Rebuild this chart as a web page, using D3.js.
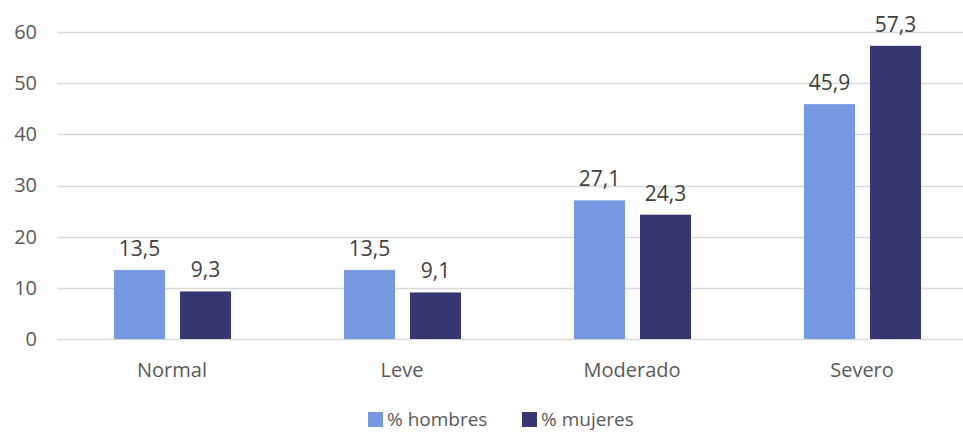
<!DOCTYPE html>
<html>
<head>
<meta charset="utf-8">
<script src="https://cdn.jsdelivr.net/npm/d3@7"></script>
<style>
  html, body { margin: 0; padding: 0; background: #fff; }
  svg { display: block; font-family: "Open Sans", "DejaVu Sans", sans-serif; }
</style>
</head>
<body>
<svg id="chart" width="963" height="432"></svg>
<script>
// Categories and series
const categories = ["Normal", "Leve", "Moderado", "Severo"];
const hombres = [13.5, 13.5, 27.1, 45.9];
const mujeres = [9.3, 9.1, 24.3, 57.3];
const seriesNames = ["% hombres", "% mujeres"];
const seriesColors = ["#7799e1", "#363670"];
const yTicks = [0, 10, 20, 30, 40, 50, 60];

const svg = d3.select("#chart");
const margin = { left: 57, top: 32, bottom: 93 };
const plotW = 920;
const plotH = 432 - margin.top - margin.bottom;

const x = d3.scaleBand().domain(categories).range([margin.left, margin.left + plotW]);
const groupW = 117;
const sub = d3.scaleBand().domain(seriesNames).range([0, groupW]).paddingInner(0.227);
const y = d3.scaleLinear().domain([0, 60]).range([margin.top + plotH, margin.top]);

const textColor = "#595959";

// Gridlines
svg.append("g")
  .selectAll("line")
  .data(yTicks)
  .join("line")
  .attr("x1", margin.left)
  .attr("x2", 963)
  .attr("y1", d => Math.round(y(d)) + 0.5)
  .attr("y2", d => Math.round(y(d)) + 0.5)
  .attr("stroke", "#d9d9d9")
  .attr("stroke-width", 1.3);

// Y axis labels
const yAxis = d3.axisLeft(y).tickValues(yTicks).tickSize(0).tickPadding(0).tickFormat(d3.format("d"));
const gy = svg.append("g").attr("transform", `translate(37,0)`).call(yAxis);
gy.select(".domain").remove();
gy.selectAll("text").attr("fill", textColor).style("font-size", "20px").attr("font-family", "'Open Sans', sans-serif");

// Bars
const data = categories.map((c, i) => ({ cat: c, vals: [hombres[i], mujeres[i]] }));
const groups = svg.append("g").selectAll("g")
  .data(data)
  .join("g")
  .attr("transform", d => `translate(${x(d.cat) + x.bandwidth() / 2 - 58},0)`);

const fmt = v => d3.format(".1f")(v).replace(".", ",");

groups.selectAll("rect")
  .data(d => d.vals.map((v, j) => ({ v, s: seriesNames[j], j })))
  .join("rect")
  .attr("x", d => sub(d.s))
  .attr("width", sub.bandwidth())
  .attr("y", d => y(d.v))
  .attr("height", d => y(0) - y(d.v))
  .attr("fill", d => seriesColors[d.j]);

groups.selectAll("text")
  .data(d => d.vals.map((v, j) => ({ v, s: seriesNames[j] })))
  .join("text")
  .attr("x", d => sub(d.s) + sub.bandwidth() / 2)
  .attr("y", d => y(d.v) - 14)
  .attr("text-anchor", "middle")
  .attr("fill", "#404040")
  .style("font-size", "21px")
  .text(d => fmt(d.v));

// Category labels
svg.append("g").selectAll("text")
  .data(categories)
  .join("text")
  .attr("x", d => x(d) + x.bandwidth() / 2)
  .attr("y", 377)
  .attr("text-anchor", "middle")
  .attr("fill", textColor)
  .style("font-size", "20px")
  .text(d => d);

// Legend
const legend = svg.append("g").attr("transform", "translate(368,411)");
const legendX = [0, 154];
seriesNames.forEach((name, i) => {
  const g = legend.append("g").attr("transform", `translate(${legendX[i]},0)`);
  g.append("rect").attr("y", 1).attr("width", 15).attr("height", 15).attr("fill", seriesColors[i]);
  g.append("text").attr("x", 19).attr("y", 15).attr("fill", textColor)
    .style("font-size", "19px").text(name);
});
</script>
</body>
</html>
